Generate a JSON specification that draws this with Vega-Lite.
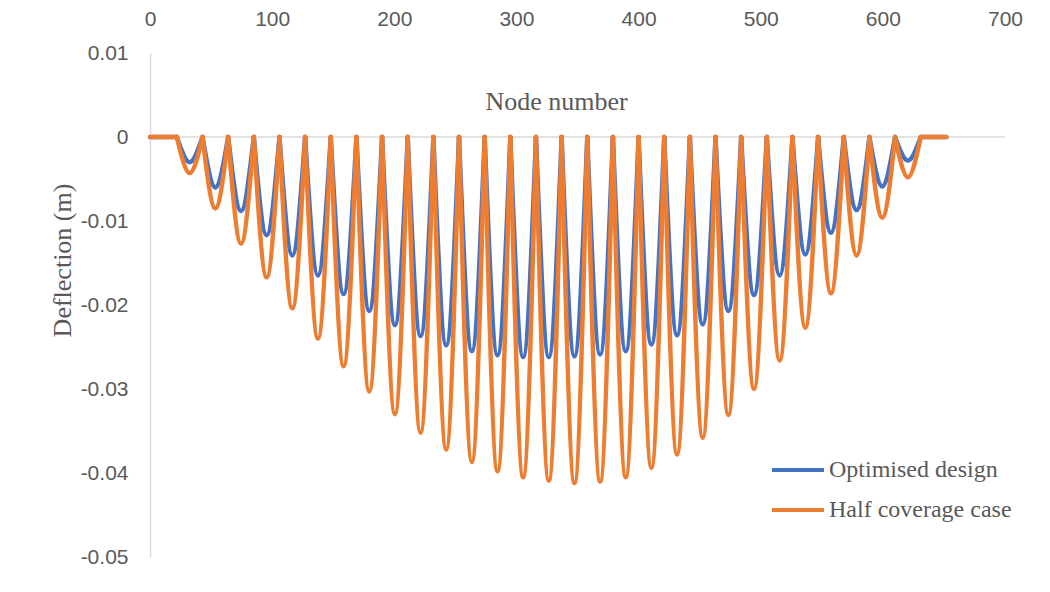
{
  "$schema": "https://vega.github.io/schema/vega-lite/v6.json",
  "width": 855,
  "height": 504,
  "autosize": {"type": "none"},
  "padding": {"left": 150, "top": 53, "right": 45, "bottom": 35},
  "background": "white",
  "config": {"view": {"stroke": null}, "font": "Liberation Sans"},
  "data": {"values": [
    {"span": -1, "node": 0, "opt": 0, "half": 0},
    {"span": -1, "node": 22, "opt": 0, "half": 0},
    {"span": 0, "node": 22, "opt": 0, "half": 0},
    {"span": 0, "node": 32.5, "opt": -0.0030, "half": -0.0043},
    {"span": 0, "node": 43, "opt": 0, "half": 0},
    {"span": 1, "node": 43, "opt": 0, "half": 0},
    {"span": 1, "node": 53.5, "opt": -0.0060, "half": -0.0085},
    {"span": 1, "node": 64, "opt": 0, "half": 0},
    {"span": 2, "node": 64, "opt": 0, "half": 0},
    {"span": 2, "node": 74.5, "opt": -0.0088, "half": -0.0127},
    {"span": 2, "node": 85, "opt": 0, "half": 0},
    {"span": 3, "node": 85, "opt": 0, "half": 0},
    {"span": 3, "node": 95.5, "opt": -0.0117, "half": -0.0167},
    {"span": 3, "node": 106, "opt": 0, "half": 0},
    {"span": 4, "node": 106, "opt": 0, "half": 0},
    {"span": 4, "node": 116.5, "opt": -0.0141, "half": -0.0204},
    {"span": 4, "node": 127, "opt": 0, "half": 0},
    {"span": 5, "node": 127, "opt": 0, "half": 0},
    {"span": 5, "node": 137.5, "opt": -0.0165, "half": -0.0240},
    {"span": 5, "node": 148, "opt": 0, "half": 0},
    {"span": 6, "node": 148, "opt": 0, "half": 0},
    {"span": 6, "node": 158.5, "opt": -0.0187, "half": -0.0273},
    {"span": 6, "node": 169, "opt": 0, "half": 0},
    {"span": 7, "node": 169, "opt": 0, "half": 0},
    {"span": 7, "node": 179.5, "opt": -0.0207, "half": -0.0303},
    {"span": 7, "node": 190, "opt": 0, "half": 0},
    {"span": 8, "node": 190, "opt": 0, "half": 0},
    {"span": 8, "node": 200.5, "opt": -0.0224, "half": -0.0330},
    {"span": 8, "node": 211, "opt": 0, "half": 0},
    {"span": 9, "node": 211, "opt": 0, "half": 0},
    {"span": 9, "node": 221.5, "opt": -0.0237, "half": -0.0352},
    {"span": 9, "node": 232, "opt": 0, "half": 0},
    {"span": 10, "node": 232, "opt": 0, "half": 0},
    {"span": 10, "node": 242.5, "opt": -0.0248, "half": -0.0372},
    {"span": 10, "node": 253, "opt": 0, "half": 0},
    {"span": 11, "node": 253, "opt": 0, "half": 0},
    {"span": 11, "node": 263.5, "opt": -0.0255, "half": -0.0387},
    {"span": 11, "node": 274, "opt": 0, "half": 0},
    {"span": 12, "node": 274, "opt": 0, "half": 0},
    {"span": 12, "node": 284.5, "opt": -0.0260, "half": -0.0398},
    {"span": 12, "node": 295, "opt": 0, "half": 0},
    {"span": 13, "node": 295, "opt": 0, "half": 0},
    {"span": 13, "node": 305.5, "opt": -0.0262, "half": -0.0405},
    {"span": 13, "node": 316, "opt": 0, "half": 0},
    {"span": 14, "node": 316, "opt": 0, "half": 0},
    {"span": 14, "node": 326.5, "opt": -0.0262, "half": -0.0409},
    {"span": 14, "node": 337, "opt": 0, "half": 0},
    {"span": 15, "node": 337, "opt": 0, "half": 0},
    {"span": 15, "node": 347.5, "opt": -0.0261, "half": -0.0412},
    {"span": 15, "node": 358, "opt": 0, "half": 0},
    {"span": 16, "node": 358, "opt": 0, "half": 0},
    {"span": 16, "node": 368.5, "opt": -0.0259, "half": -0.0410},
    {"span": 16, "node": 379, "opt": 0, "half": 0},
    {"span": 17, "node": 379, "opt": 0, "half": 0},
    {"span": 17, "node": 389.5, "opt": -0.0255, "half": -0.0405},
    {"span": 17, "node": 400, "opt": 0, "half": 0},
    {"span": 18, "node": 400, "opt": 0, "half": 0},
    {"span": 18, "node": 410.5, "opt": -0.0247, "half": -0.0394},
    {"span": 18, "node": 421, "opt": 0, "half": 0},
    {"span": 19, "node": 421, "opt": 0, "half": 0},
    {"span": 19, "node": 431.5, "opt": -0.0236, "half": -0.0378},
    {"span": 19, "node": 442, "opt": 0, "half": 0},
    {"span": 20, "node": 442, "opt": 0, "half": 0},
    {"span": 20, "node": 452.5, "opt": -0.0223, "half": -0.0358},
    {"span": 20, "node": 463, "opt": 0, "half": 0},
    {"span": 21, "node": 463, "opt": 0, "half": 0},
    {"span": 21, "node": 473.5, "opt": -0.0207, "half": -0.0331},
    {"span": 21, "node": 484, "opt": 0, "half": 0},
    {"span": 22, "node": 484, "opt": 0, "half": 0},
    {"span": 22, "node": 494.5, "opt": -0.0188, "half": -0.0300},
    {"span": 22, "node": 505, "opt": 0, "half": 0},
    {"span": 23, "node": 505, "opt": 0, "half": 0},
    {"span": 23, "node": 515.5, "opt": -0.0165, "half": -0.0266},
    {"span": 23, "node": 526, "opt": 0, "half": 0},
    {"span": 24, "node": 526, "opt": 0, "half": 0},
    {"span": 24, "node": 536.5, "opt": -0.0140, "half": -0.0227},
    {"span": 24, "node": 547, "opt": 0, "half": 0},
    {"span": 25, "node": 547, "opt": 0, "half": 0},
    {"span": 25, "node": 557.5, "opt": -0.0114, "half": -0.0186},
    {"span": 25, "node": 568, "opt": 0, "half": 0},
    {"span": 26, "node": 568, "opt": 0, "half": 0},
    {"span": 26, "node": 578.5, "opt": -0.0087, "half": -0.0141},
    {"span": 26, "node": 589, "opt": 0, "half": 0},
    {"span": 27, "node": 589, "opt": 0, "half": 0},
    {"span": 27, "node": 599.5, "opt": -0.0059, "half": -0.0096},
    {"span": 27, "node": 610, "opt": 0, "half": 0},
    {"span": 28, "node": 610, "opt": 0, "half": 0},
    {"span": 28, "node": 620.5, "opt": -0.0028, "half": -0.0048},
    {"span": 28, "node": 631, "opt": 0, "half": 0},
    {"span": 29, "node": 631, "opt": 0, "half": 0},
    {"span": 29, "node": 652, "opt": 0, "half": 0}
  ]},
  "layer": [
    {
      "data": {"values": [{}]},
      "mark": {"type": "rule", "color": "#D9D9D9", "strokeWidth": 1.5},
      "encoding": {"y": {"datum": 0, "type": "quantitative", "scale": {"domain": [-0.05, 0.01], "nice": false, "zero": false}}}
    },
    {
      "mark": {"type": "line", "interpolate": "monotone", "strokeWidth": 4.5, "strokeCap": "round", "strokeJoin": "round"},
      "encoding": {
        "x": {"field": "node", "type": "quantitative", "scale": {"domain": [0, 700], "nice": false, "zero": false},
          "axis": {"orient": "top", "values": [0, 100, 200, 300, 400, 500, 600, 700], "grid": false, "ticks": false, "tickSize": 0, "domain": false,
            "labelFont": "Liberation Sans", "labelFontSize": 21, "labelColor": "#595959", "labelPadding": 24, "labelFlush": false, "labelOverlap": false,
            "title": "Node number", "titleFont": "Liberation Serif", "titleFontSize": 26, "titleFontWeight": "normal", "titleColor": "#595959",
            "titleX": 406, "titleY": 48, "titleAlign": "center", "titleBaseline": "middle", "titleAngle": 0}},
        "y": {"field": "opt", "type": "quantitative", "scale": {"domain": [-0.05, 0.01], "nice": false, "zero": false},
          "axis": {"orient": "left", "values": [-0.05, -0.04, -0.03, -0.02, -0.01, 0, 0.01], "grid": false, "ticks": false, "tickSize": 0,
            "domain": true, "domainColor": "#D9D9D9", "domainWidth": 1.5,
            "labelExpr": "datum.value == 0 ? '0' : toString(round(datum.value * 100) / 100)",
            "labelFont": "Liberation Sans", "labelFontSize": 21, "labelColor": "#595959", "labelPadding": 22, "labelOverlap": false,
            "title": "Deflection (m)", "titleFont": "Liberation Serif", "titleFontSize": 26, "titleFontWeight": "normal", "titleColor": "#595959",
            "titleX": -88, "titleY": 207, "titleAngle": 270, "titleAlign": "center", "titleBaseline": "middle"}},
        "color": {"datum": "Optimised design", "type": "nominal",
          "scale": {"domain": ["Optimised design", "Half coverage case"], "range": ["#4472C4", "#ED7D31"]},
          "legend": {"orient": "none", "legendX": 620, "legendY": 389, "title": null, "symbolType": "stroke", "symbolSize": 2704, "symbolStrokeWidth": 4,
            "labelFont": "Liberation Serif", "labelFontSize": 24, "labelColor": "#595959", "labelOffset": 3, "rowPadding": -8, "padding": 0, "labelLimit": 400}},
        "detail": {"field": "span", "type": "nominal"}
      }
    },
    {
      "mark": {"type": "line", "interpolate": "monotone", "strokeWidth": 4.5, "strokeCap": "round", "strokeJoin": "round"},
      "encoding": {
        "x": {"field": "node", "type": "quantitative"},
        "y": {"field": "half", "type": "quantitative"},
        "color": {"datum": "Half coverage case", "type": "nominal"},
        "detail": {"field": "span", "type": "nominal"}
      }
    }
  ]
}
